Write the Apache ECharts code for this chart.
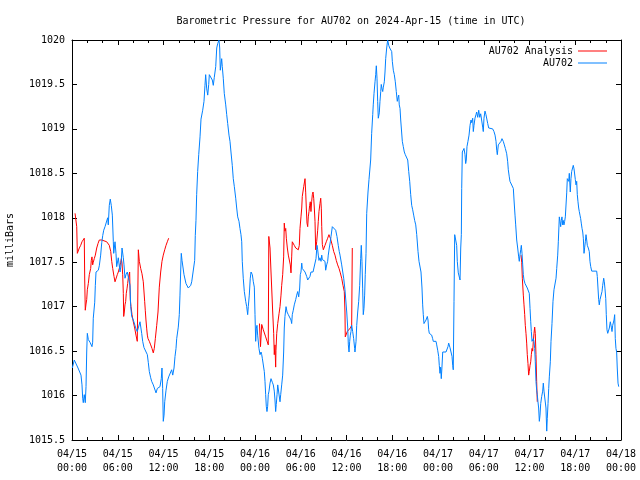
<!DOCTYPE html>
<html>
<head>
<meta charset="utf-8">
<script src="https://cdn.jsdelivr.net/npm/echarts@6/dist/echarts.min.js"></script>
<style>html,body{margin:0;padding:0;background:#fff}#c{width:640px;height:480px}</style>
</head>
<body>
<div id="c"></div>
<script>
// Hours since 2024-04-15 00:00 UTC, pressure in milliBars
const chartTitle = 'Barometric Pressure for AU702 on 2024-Apr-15 (time in UTC)';
const yAxisName = 'milliBars';
const seriesNames = ['AU702 Analysis', 'AU702'];
const startDay = 15;
const xMin = 0, xMax = 72, xStep = 6;
const yMin = 1015.5, yMax = 1020, yStep = 0.5;

const observedAU702 = [
[0.04,1016.31],[0.30,1016.40],[0.79,1016.31],[1.18,1016.23],[1.31,1016.12],[1.40,1015.97],[1.48,1015.92],[1.61,1016.01],[1.74,1015.92],[1.84,1016.10],
[1.93,1016.49],[2.01,1016.70],[2.14,1016.63],[2.36,1016.60],[2.58,1016.60],[2.62,1016.55],[2.71,1016.60],[2.79,1016.87],[2.98,1017.05],[3.06,1017.24],
[3.15,1017.39],[3.45,1017.41],[3.58,1017.46],[3.76,1017.58],[3.90,1017.72],[4.03,1017.80],[4.16,1017.86],[4.33,1017.90],[4.55,1017.92],[4.68,1018.00],
[4.76,1017.92],[4.89,1018.14],[5.02,1018.21],[5.15,1018.14],[5.29,1018.03],[5.42,1017.73],[5.47,1017.60],[5.64,1017.73],[5.77,1017.60],[5.86,1017.45],
[6.07,1017.55],[6.30,1017.39],[6.43,1017.47],[6.56,1017.66],[6.73,1017.55],[6.82,1017.47],[6.95,1017.32],[7.08,1017.36],[7.25,1017.39],[7.51,1017.39],
[7.61,1017.24],[7.70,1017.00],[7.83,1016.89],[8.04,1016.85],[8.26,1016.79],[8.39,1016.75],[8.56,1016.72],[8.70,1016.74],[8.92,1016.83],[9.14,1016.70],
[9.27,1016.61],[9.44,1016.54],[9.70,1016.54],[9.88,1016.46],[10.01,1016.37],[10.14,1016.27],[10.32,1016.20],[10.45,1016.16],[10.66,1016.12],[10.89,1016.10],
[11.02,1016.03],[11.19,1016.08],[11.37,1016.10],[11.54,1016.10],[11.71,1016.19],[11.80,1016.31],[11.89,1016.08],[11.97,1015.71],[12.07,1015.78],[12.16,1015.93],
[12.33,1016.06],[12.50,1016.16],[12.68,1016.21],[12.85,1016.23],[13.07,1016.29],[13.21,1016.23],[13.38,1016.31],[13.51,1016.44],[13.64,1016.53],[13.73,1016.64],
[13.94,1016.77],[14.07,1016.91],[14.16,1017.13],[14.25,1017.39],[14.33,1017.60],[14.43,1017.52],[14.52,1017.54],[14.69,1017.36],[14.82,1017.38],[14.95,1017.26],
[15.12,1017.24],[15.25,1017.21],[15.38,1017.21],[15.57,1017.24],[15.70,1017.28],[15.91,1017.30],[16.09,1017.52],[16.17,1017.80],[16.26,1017.97],[16.35,1018.26],
[16.48,1018.52],[16.62,1018.71],[16.79,1018.91],[16.92,1019.11],[17.14,1019.21],[17.31,1019.31],[17.44,1019.49],[17.53,1019.61],[17.67,1019.45],[17.80,1019.38],
[17.93,1019.50],[18.01,1019.61],[18.19,1019.61],[18.40,1019.55],[18.53,1019.49],[18.66,1019.58],[18.85,1019.70],[18.98,1019.91],[19.11,1019.96],[19.28,1020.00],
[19.37,1019.91],[19.45,1019.66],[19.54,1019.72],[19.63,1019.79],[19.71,1019.70],[19.84,1019.57],[19.97,1019.40],[20.16,1019.27],[20.29,1019.16],[20.42,1019.06],
[20.59,1018.93],[20.72,1018.86],[20.85,1018.74],[21.02,1018.59],[21.15,1018.44],[21.29,1018.35],[21.47,1018.22],[21.60,1018.11],[21.73,1018.01],[21.90,1017.96],
[22.03,1017.88],[22.16,1017.81],[22.26,1017.73],[22.33,1017.51],[22.46,1017.32],[22.60,1017.17],[22.78,1017.06],[22.91,1017.00],[23.04,1016.91],[23.12,1017.00],
[23.25,1017.13],[23.38,1017.32],[23.48,1017.39],[23.65,1017.36],[23.78,1017.28],[23.91,1017.22],[24.00,1016.91],[24.09,1016.61],[24.17,1016.75],[24.26,1016.79],
[24.35,1016.68],[24.52,1016.53],[24.66,1016.46],[24.79,1016.49],[24.88,1016.46],[24.96,1016.42],[25.09,1016.42],[25.22,1016.27],[25.31,1016.16],[25.40,1016.01],
[25.48,1015.88],[25.57,1015.82],[25.66,1015.88],[25.74,1016.01],[25.84,1016.05],[25.97,1016.14],[26.10,1016.19],[26.27,1016.15],[26.40,1016.12],[26.53,1016.05],
[26.62,1015.95],[26.71,1015.82],[26.79,1015.90],[26.89,1016.01],[26.98,1016.12],[27.15,1016.10],[27.28,1015.93],[27.37,1016.01],[27.50,1016.12],[27.63,1016.23],
[27.76,1016.49],[27.84,1016.76],[27.93,1016.89],[28.07,1017.00],[28.20,1016.94],[28.37,1016.91],[28.59,1016.91],[28.72,1016.85],[28.81,1016.81],[28.89,1016.91],
[29.02,1016.96],[29.15,1017.02],[29.34,1017.08],[29.47,1017.13],[29.60,1017.17],[29.73,1017.11],[29.86,1017.21],[29.94,1017.36],[30.03,1017.39],[30.13,1017.49],
[30.20,1017.43],[30.39,1017.41],[30.56,1017.39],[30.78,1017.34],[30.91,1017.30],[31.08,1017.30],[31.21,1017.34],[31.34,1017.39],[31.61,1017.39],[31.87,1017.39],
[32.00,1017.54],[32.13,1017.69],[32.22,1017.64],[32.30,1017.58],[32.39,1017.52],[32.52,1017.55],[32.66,1017.51],[32.75,1017.58],[32.83,1017.53],[32.96,1017.51],
[33.18,1017.51],[33.27,1017.41],[33.40,1017.47],[33.53,1017.51],[33.61,1017.58],[33.74,1017.66],[33.88,1017.73],[33.97,1017.79],[34.14,1017.90],[34.40,1017.90],
[34.58,1017.86],[34.75,1017.79],[34.92,1017.69],[35.05,1017.62],[35.15,1017.58],[35.37,1017.47],[35.63,1017.32],[35.80,1017.19],[36.03,1016.94],[36.16,1016.76],
[36.24,1016.57],[36.33,1016.49],[36.42,1016.61],[36.50,1016.68],[36.59,1016.72],[36.68,1016.79],[36.81,1016.72],[36.94,1016.64],[37.07,1016.53],[37.11,1016.49],
[37.25,1016.61],[37.34,1016.79],[37.47,1016.94],[37.60,1017.06],[37.73,1017.24],[37.86,1017.54],[37.94,1017.69],[38.03,1017.51],[38.12,1017.20],[38.20,1016.91],
[38.29,1016.98],[38.38,1017.13],[38.46,1017.36],[38.56,1017.60],[38.65,1018.05],[38.82,1018.29],[38.95,1018.43],[39.17,1018.65],[39.30,1018.95],[39.44,1019.16],
[39.51,1019.27],[39.61,1019.40],[39.74,1019.53],[39.83,1019.61],[39.91,1019.71],[40.00,1019.57],[40.09,1019.31],[40.17,1019.12],[40.30,1019.18],[40.39,1019.31],
[40.49,1019.42],[40.56,1019.50],[40.66,1019.45],[40.75,1019.42],[40.83,1019.47],[40.96,1019.53],[41.05,1019.64],[41.14,1019.79],[41.27,1019.91],[41.40,1020.00],
[41.54,1019.94],[41.67,1019.91],[41.80,1019.91],[41.93,1019.87],[42.01,1019.76],[42.14,1019.66],[42.27,1019.61],[42.40,1019.53],[42.53,1019.42],[42.66,1019.31],
[42.75,1019.35],[42.85,1019.38],[42.92,1019.27],[43.02,1019.23],[43.11,1019.10],[43.19,1019.01],[43.32,1018.86],[43.45,1018.80],[43.58,1018.74],[43.71,1018.71],
[43.90,1018.71],[44.03,1018.65],[44.16,1018.52],[44.29,1018.41],[44.42,1018.26],[44.55,1018.14],[44.68,1018.09],[44.81,1018.03],[44.94,1017.97],[45.08,1017.92],
[45.21,1017.81],[45.38,1017.62],[45.51,1017.51],[45.64,1017.51],[45.77,1017.39],[45.90,1017.21],[45.99,1017.02],[46.07,1016.91],[46.16,1016.81],[46.30,1016.81],
[46.43,1016.85],[46.52,1016.83],[46.60,1016.89],[46.69,1016.85],[46.78,1016.74],[46.86,1016.70],[47.04,1016.70],[47.17,1016.68],[47.30,1016.64],[47.38,1016.61],
[47.61,1016.61],[47.74,1016.61],[47.83,1016.57],[47.96,1016.51],[48.09,1016.44],[48.17,1016.34],[48.26,1016.25],[48.35,1016.32],[48.43,1016.19],[48.52,1016.32],
[48.62,1016.49],[48.79,1016.49],[49.05,1016.49],[49.22,1016.50],[49.31,1016.55],[49.40,1016.59],[49.48,1016.57],[49.57,1016.54],[49.70,1016.52],[49.84,1016.44],
[49.93,1016.34],[50.00,1016.29],[50.10,1017.06],[50.19,1017.81],[50.36,1017.81],[50.45,1017.69],[50.53,1017.51],[50.66,1017.38],[50.79,1017.36],[50.89,1017.30],
[50.98,1017.66],[51.06,1017.81],[51.11,1018.33],[51.19,1018.74],[51.32,1018.76],[51.41,1018.78],[51.54,1018.71],[51.63,1018.61],[51.71,1018.65],[51.80,1018.80],
[51.93,1018.86],[52.07,1018.93],[52.20,1019.04],[52.33,1019.10],[52.42,1019.07],[52.55,1019.12],[52.63,1018.97],[52.72,1019.04],[52.85,1019.12],[52.98,1019.16],
[53.07,1019.19],[53.21,1019.13],[53.34,1019.21],[53.47,1019.13],[53.60,1019.17],[53.73,1019.19],[53.86,1019.02],[53.94,1018.97],[54.03,1019.12],[54.16,1019.20],
[54.29,1019.16],[54.38,1019.14],[54.52,1019.06],[54.65,1019.01],[54.82,1019.01],[55.17,1019.00],[55.34,1018.97],[55.48,1018.93],[55.61,1018.86],[55.70,1018.76],
[55.78,1018.71],[55.91,1018.82],[56.13,1018.82],[56.26,1018.86],[56.39,1018.89],[56.56,1018.86],[56.70,1018.82],[56.83,1018.78],[57.01,1018.72],[57.14,1018.63],
[57.22,1018.54],[57.35,1018.46],[57.44,1018.41],[57.67,1018.39],[57.88,1018.33],[57.97,1018.20],[58.10,1018.03],[58.19,1017.92],[58.32,1017.75],[58.45,1017.66],
[58.58,1017.56],[58.66,1017.51],[58.75,1017.58],[58.85,1017.64],[58.93,1017.69],[59.02,1017.60],[59.11,1017.47],[59.19,1017.36],[59.28,1017.30],[59.41,1017.26],
[59.54,1017.24],[59.71,1017.21],[59.84,1017.19],[59.97,1017.15],[60.07,1016.98],[60.16,1016.83],[60.24,1016.72],[60.33,1016.61],[60.42,1016.59],[60.50,1016.64],
[60.59,1016.61],[60.68,1016.53],[60.76,1016.38],[60.85,1016.16],[60.94,1016.06],[61.02,1016.01],[61.11,1015.93],[61.20,1015.86],[61.29,1015.71],[61.38,1015.78],
[61.47,1015.91],[61.60,1015.99],[61.73,1016.05],[61.81,1016.14],[61.90,1016.05],[62.03,1016.05],[62.16,1015.86],[62.26,1015.60],[62.33,1015.74],[62.43,1015.91],
[62.52,1016.08],[62.60,1016.21],[62.73,1016.38],[62.82,1016.61],[62.95,1016.81],[63.08,1017.06],[63.21,1017.19],[63.34,1017.21],[63.48,1017.32],[63.57,1017.43],
[63.70,1017.58],[63.78,1017.73],[63.83,1017.84],[63.91,1018.01],[64.00,1017.96],[64.09,1017.90],[64.17,1017.97],[64.26,1018.01],[64.35,1017.92],[64.43,1017.97],
[64.52,1017.92],[64.61,1017.96],[64.70,1018.01],[64.79,1018.01],[64.88,1018.28],[64.96,1018.44],[65.05,1018.46],[65.14,1018.41],[65.22,1018.50],[65.35,1018.29],
[65.44,1018.44],[65.53,1018.52],[65.67,1018.54],[65.74,1018.59],[65.84,1018.55],[65.93,1018.54],[66.01,1018.43],[66.10,1018.37],[66.19,1018.41],[66.27,1018.26],
[66.36,1018.18],[66.45,1018.11],[66.53,1018.07],[66.62,1018.03],[66.71,1017.99],[66.79,1017.94],[66.89,1017.88],[66.98,1017.84],[67.06,1017.77],[67.15,1017.60],
[67.24,1017.67],[67.32,1017.73],[67.41,1017.81],[67.50,1017.75],[67.58,1017.69],[67.71,1017.66],[67.84,1017.62],[67.93,1017.51],[68.03,1017.45],[68.16,1017.40],
[68.46,1017.40],[68.81,1017.40],[68.89,1017.34],[68.98,1017.21],[69.07,1017.08],[69.15,1017.02],[69.25,1017.08],[69.38,1017.09],[69.51,1017.17],[69.60,1017.24],
[69.73,1017.32],[69.81,1017.28],[69.90,1017.20],[70.00,1017.09],[70.07,1016.91],[70.16,1016.74],[70.26,1016.70],[70.39,1016.72],[70.47,1016.76],[70.60,1016.83],
[70.73,1016.77],[70.82,1016.72],[70.91,1016.79],[70.99,1016.79],[71.08,1016.85],[71.17,1016.91],[71.25,1016.64],[71.34,1016.53],[71.43,1016.49],[71.51,1016.31],
[71.61,1016.14],[71.70,1016.10]
];

const analysisApr15 = [
[0.40,1018.05],[0.62,1017.90],[0.70,1017.60],[0.96,1017.66],[1.14,1017.69],[1.31,1017.73],[1.48,1017.75],[1.61,1017.77],[1.67,1017.30],[1.74,1016.96],
[1.84,1017.03],[1.93,1017.08],[2.01,1017.19],[2.14,1017.26],[2.27,1017.36],[2.45,1017.43],[2.53,1017.52],[2.62,1017.56],[2.71,1017.47],[2.79,1017.50],
[2.92,1017.54],[3.06,1017.58],[3.24,1017.66],[3.41,1017.71],[3.58,1017.75],[3.90,1017.75],[4.03,1017.74],[4.55,1017.73],[4.76,1017.72],[4.89,1017.69],
[5.08,1017.62],[5.21,1017.51],[5.34,1017.43],[5.51,1017.34],[5.64,1017.28],[5.77,1017.28],[5.94,1017.36],[6.07,1017.39],[6.20,1017.43],[6.30,1017.45],
[6.39,1017.50],[6.47,1017.54],[6.56,1017.49],[6.65,1017.36],[6.73,1017.15],[6.78,1016.89],[6.86,1016.94],[6.95,1017.02],[7.04,1017.06],[7.12,1017.15],
[7.21,1017.20],[7.30,1017.26],[7.38,1017.32],[7.48,1017.30],[7.56,1017.39],[7.64,1017.08],[7.74,1017.00],[7.87,1016.91],[8.04,1016.83],[8.22,1016.76],
[8.39,1016.68],[8.56,1016.61],[8.63,1016.60],[8.70,1017.64],[8.83,1017.51],[9.01,1017.43],[9.18,1017.37],[9.35,1017.28],[9.53,1017.06],[9.61,1016.96],
[9.70,1016.85],[9.80,1016.75],[9.88,1016.68],[9.97,1016.64],[10.14,1016.61],[10.32,1016.57],[10.49,1016.53],[10.66,1016.48],[10.79,1016.53],[10.93,1016.64],
[11.11,1016.79],[11.28,1016.94],[11.45,1017.22],[11.63,1017.39],[11.80,1017.51],[11.97,1017.58],[12.16,1017.64],[12.33,1017.69],[12.50,1017.73],[12.68,1017.77]
];

const analysisApr16 = [
[24.59,1016.81],[24.72,1016.55],[24.88,1016.80],[25.09,1016.74],[25.40,1016.66],[25.74,1016.57],[25.81,1017.79],[25.97,1017.66],[26.10,1017.39],[26.19,1017.21],
[26.32,1016.94],[26.45,1016.70],[26.53,1016.46],[26.62,1016.57],[26.71,1016.32],[26.75,1016.51],[26.85,1016.70],[26.98,1016.81],[27.15,1016.92],[27.28,1017.00],
[27.41,1017.13],[27.50,1017.24],[27.63,1017.36],[27.76,1017.56],[27.84,1017.94],[27.93,1017.85],[28.03,1017.88],[28.11,1017.77],[28.24,1017.66],[28.37,1017.58],
[28.50,1017.56],[28.63,1017.47],[28.72,1017.38],[28.81,1017.56],[28.89,1017.73],[29.15,1017.69],[29.34,1017.66],[29.51,1017.64],[29.68,1017.64],[29.81,1017.69],
[29.90,1017.88],[30.03,1018.01],[30.13,1018.11],[30.20,1018.24],[30.30,1018.25],[30.39,1018.35],[30.47,1018.37],[30.56,1018.44],[30.65,1018.28],[30.73,1018.11],
[30.82,1017.94],[30.91,1017.90],[30.99,1018.01],[31.08,1018.07],[31.17,1018.14],[31.25,1018.18],[31.34,1018.07],[31.43,1018.18],[31.52,1018.26],[31.61,1018.29],
[31.70,1018.22],[31.78,1018.11],[31.87,1017.96],[31.96,1017.64],[32.09,1017.73],[32.22,1017.86],[32.30,1017.96],[32.39,1018.07],[32.52,1018.16],[32.62,1018.22],
[32.70,1018.10],[32.75,1017.90],[32.83,1017.70],[32.96,1017.64],[33.18,1017.69],[33.35,1017.73],[33.53,1017.77],[33.70,1017.81],[33.79,1017.79],[33.88,1017.77],
[33.97,1017.77],[34.14,1017.69],[34.32,1017.62],[34.49,1017.58],[34.66,1017.52],[34.84,1017.47],[35.02,1017.43],[35.19,1017.38],[35.37,1017.32],[35.54,1017.24],
[35.71,1017.17],[35.80,1016.94],[35.84,1016.66],[35.97,1016.68],[36.10,1016.72],[36.24,1016.72],[36.50,1016.76],[36.68,1016.79],[36.76,1017.66]
];

const analysisApr17 = [
[58.89,1017.58],[58.98,1017.50],[59.06,1017.32],[59.19,1017.13],[59.28,1017.02],[59.37,1016.91],[59.45,1016.79],[59.54,1016.70],[59.63,1016.59],[59.71,1016.46],
[59.80,1016.36],[59.89,1016.23],[59.97,1016.27],[60.07,1016.34],[60.16,1016.38],[60.24,1016.46],[60.33,1016.53],[60.42,1016.50],[60.50,1016.61],[60.59,1016.70],
[60.68,1016.77],[60.76,1016.70],[60.85,1016.46],[60.94,1016.16],[61.02,1015.93]
];

const analysisData = analysisApr15.concat([[18, '-']], analysisApr16, [[48, '-']], analysisApr17);

const FONT = '"DejaVu Sans Mono", "Liberation Mono", monospace';
const pad = n => (n < 10 ? '0' : '') + n;
function timeLabel(h) {
  const day = startDay + Math.floor(h / 24 + 1e-9);
  const hr = Math.round(h - (day - startDay) * 24);
  return '04/' + pad(day) + '\n' + pad(hr) + ':00';
}
function pressureLabel(v) {
  return String(Math.round(v * 10) / 10);
}

const tickStyle = { inside: true, length: 5, lineStyle: { color: '#000', width: 1 } };
const minorStyle = { show: true, splitNumber: 3, length: 3, lineStyle: { color: '#000', width: 1 } };
const lineAx = { show: true, onZero: false, lineStyle: { color: '#000', width: 1 } };

const chart = echarts.init(document.getElementById('c'), null, { renderer: 'canvas' });
chart.setOption({
  animation: false,
  backgroundColor: '#fff',
  title: {
    text: chartTitle, left: 346, top: 11, textAlign: 'center',
    textStyle: { fontFamily: FONT, fontSize: 10, fontWeight: 'normal', color: '#000' }
  },
  legend: {
    data: seriesNames, orient: 'vertical', right: 28, top: 40, align: 'right',
    itemGap: 0, itemWidth: 29, itemHeight: 1, icon: 'rect',
    textStyle: { fontFamily: FONT, fontSize: 10, color: '#000', lineHeight: 12 }
  },
  grid: { left: 72, right: 19, top: 40, bottom: 40, containLabel: false, outerBoundsMode: 'none' },
  xAxis: [
    { type: 'value', min: xMin, max: xMax, interval: xStep, axisLine: lineAx, axisTick: tickStyle,
      minorTick: minorStyle, splitLine: { show: false },
      axisLabel: { formatter: timeLabel, fontFamily: FONT, fontSize: 10, color: '#000', lineHeight: 14, margin: 7 } },
    { type: 'value', position: 'top', min: xMin, max: xMax, interval: xStep, axisLine: lineAx, axisTick: tickStyle,
      minorTick: minorStyle, splitLine: { show: false }, axisLabel: { show: false } }
  ],
  yAxis: [
    { type: 'value', min: yMin, max: yMax, interval: yStep, axisLine: lineAx, axisTick: tickStyle,
      splitLine: { show: false },
      axisLabel: { formatter: pressureLabel, fontFamily: FONT, fontSize: 10, color: '#000', margin: 7 },
      name: yAxisName, nameLocation: 'middle', nameRotate: 90, nameGap: 57,
      nameTextStyle: { fontFamily: FONT, fontSize: 10, color: '#000' } },
    { type: 'value', position: 'right', min: yMin, max: yMax, interval: yStep, axisLine: lineAx, axisTick: tickStyle,
      splitLine: { show: false }, axisLabel: { show: false } }
  ],
  series: [
    { name: seriesNames[0], type: 'line', data: analysisData, showSymbol: false, connectNulls: false,
      color: '#ff0000', lineStyle: { color: '#ff0000', width: 1 }, z: 2 },
    { name: seriesNames[1], type: 'line', data: observedAU702, showSymbol: false,
      color: '#0080ff', lineStyle: { color: '#0080ff', width: 1 }, z: 3 }
  ]
});
</script>
</body>
</html>
